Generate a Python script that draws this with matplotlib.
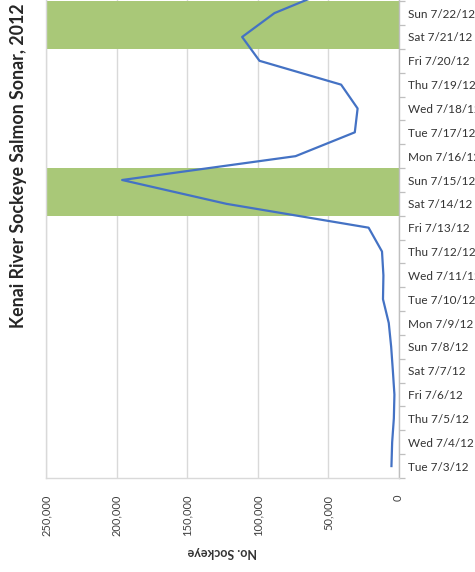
import matplotlib
matplotlib.use("Agg")
import matplotlib.pyplot as plt
from matplotlib.ticker import FuncFormatter, FixedLocator

dates = ["Tue 7/3/12", "Wed 7/4/12", "Thu 7/5/12", "Fri 7/6/12", "Sat 7/7/12",
         "Sun 7/8/12", "Mon 7/9/12", "Tue 7/10/12", "Wed 7/11/12", "Thu 7/12/12",
         "Fri 7/13/12", "Sat 7/14/12", "Sun 7/15/12", "Mon 7/16/12", "Tue 7/17/12",
         "Wed 7/18/12", "Thu 7/19/12", "Fri 7/20/12", "Sat 7/21/12", "Sun 7/22/12",
         "Mon 7/23/12"]
sockeye = [5000, 4500, 3300, 2900, 4000, 5200, 6900, 11000, 10700, 11700,
           21200, 122000, 196000, 73000, 31000, 29000, 40700, 98600, 110900, 88000,
           47000]
highlighted = ["Sat 7/14/12", "Sun 7/15/12", "Sat 7/21/12", "Sun 7/22/12"]
value_ticks = [0, 50000, 100000, 150000, 200000, 250000]
title = "Kenai River Sockeye Salmon Sonar, 2012"
value_label = "No. Sockeye"

FONT = "Lato"
W, H = 475, 572
fig = plt.figure(figsize=(W / 100, H / 100), dpi=100)
fig.patch.set_facecolor("white")

left_px, right_px, bottom_px = 46, 398.5, 478
cat_px = 23.84
h_px = len(dates) * cat_px
ax = fig.add_axes([left_px / W, (H - bottom_px) / H, (right_px - left_px) / W, h_px / H])

idx = list(range(len(dates)))
ax.set_ylim(-0.5, len(dates) - 0.5)
ax.set_xlim(250000, 0)

grid_c = "#d9d9d9"
ax.set_xticks(value_ticks)
ax.xaxis.set_major_formatter(FuncFormatter(lambda v, p: f"{int(v):,}"))
ax.grid(axis="x", color=grid_c, lw=1.0, zorder=0)
ax.set_axisbelow(True)
ax.tick_params(axis="x", length=0, pad=12, labelsize=8, labelcolor="#404040",
               labelrotation=90)
for lab in ax.get_xticklabels():
    lab.set_fontfamily(FONT)
    lab.set_verticalalignment("top")

for i, d in enumerate(dates):
    if d in highlighted:
        ax.axhspan(i - 0.5, i + 0.5, color="#a9c878", lw=0, zorder=1)

ax.plot(sockeye, idx, color="#4472c4", lw=1.6, zorder=3, solid_joinstyle="round")

ax.yaxis.tick_right()
ax.set_yticks(idx)
ax.set_yticklabels(dates, fontfamily=FONT, fontsize=8.5, color="#333333")
ax.tick_params(axis="y", which="major", length=0, pad=7)
ax.yaxis.set_minor_locator(FixedLocator([i + 0.5 for i in range(-1, len(dates))]))
ax.tick_params(axis="y", which="minor", length=4, width=0.9, color="#bfbfbf", direction="out")
# the last category's label lies above the cropped top edge of the figure
ax.get_yticklabels()[-1].set_visible(False)

for s in ["left", "bottom"]:
    ax.spines[s].set_color(grid_c)
    ax.spines[s].set_linewidth(1.0)
ax.spines["right"].set_color("#bfbfbf")
ax.spines["right"].set_linewidth(1.0)
ax.spines["top"].set_visible(False)

fig.text((left_px + right_px) / 2 / W, 1 - 552 / H, value_label, rotation=180,
         ha="center", va="center", fontsize=9, fontweight="bold", color="#333333",
         fontfamily=FONT)
fig.text(19 / W, 1 - 166 / H, title, rotation=90, ha="center", va="center",
         fontsize=12.8, fontweight="bold", color="#262626", fontfamily=FONT)

fig.savefig("out.png", dpi=100)
